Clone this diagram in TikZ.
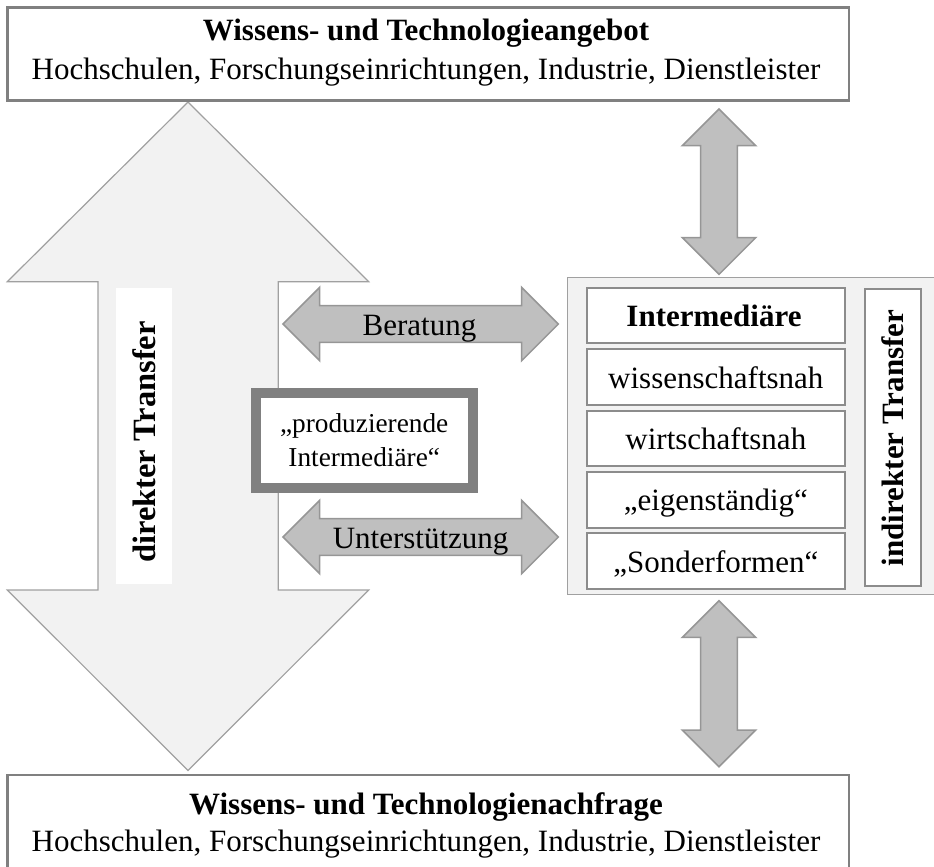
\documentclass[tikz,border=0pt]{standalone}
\usepackage{fontspec}
\setmainfont{Liberation Serif}
\definecolor{lightfill}{HTML}{F2F2F2}
\definecolor{bigline}{HTML}{A0A0A0}
\definecolor{arrowfill}{HTML}{BFBFBF}
\definecolor{arrowline}{HTML}{969696}
\definecolor{boxline}{HTML}{8C8C8C}
\definecolor{thickline}{HTML}{808080}
\begin{document}
\begin{tikzpicture}[x=1pt,y=-1pt,
  bigarrow/.style={fill=lightfill, draw=bigline, line width=1.2pt, line join=miter},
  smallarrow/.style={fill=arrowfill, draw=arrowline, line width=1.5pt, line join=miter},
  framebox/.style={draw=thickline, line width=2.5pt, fill=white, inner sep=0pt},
  listbox/.style={draw=boxline, line width=2pt, fill=white, inner sep=0pt},
  container/.style={draw=bigline, line width=1.5pt, fill=lightfill, inner sep=0pt},
  txt/.style={font=\fontsize{31}{37}\selectfont, inner sep=0pt},
  btxt/.style={font=\fontsize{31}{37}\selectfont\bfseries, inner sep=0pt},
  stxt/.style={font=\fontsize{27.3}{34}\selectfont, inner sep=0pt, align=center}]
\useasboundingbox (0,0) rectangle (934,867);

% big double arrow: direct transfer
\draw[bigarrow] (188,102) -- (7.3,281.7) -- (98,281.7) -- (98,590) -- (7.3,590) -- (188,770.5)
  -- (368.7,590) -- (278.3,590) -- (278.3,281.7) -- (368.7,281.7) -- cycle;
\node[fill=white, minimum width=56pt, minimum height=296pt, inner sep=0pt] (dirbg) at (144,436) {};
\node[font=\fontsize{32.5}{38}\selectfont\bfseries, inner sep=0pt, rotate=90] (dirtxt) at (144,442) {direkter Transfer};

% top and bottom boxes
\node[framebox, minimum width=841.7pt, minimum height=93.4pt] (supply) at (428.15,54) {};
\node[btxt, anchor=base] (supplyT) at (426,41) {Wissens- und Technologieangebot};
\node[txt, anchor=base] (supplyS) at (426,79) {Hochschulen, Forschungseinrichtungen, Industrie, Dienstleister};

\node[framebox, minimum width=841.7pt, minimum height=110pt] (demand) at (428.15,830) {};
\node[btxt, anchor=base] (demandT) at (426,814) {Wissens- und Technologienachfrage};
\node[txt, anchor=base] (demandS) at (426,851) {Hochschulen, Forschungseinrichtungen, Industrie, Dienstleister};

% container of intermediaries
\node[container, minimum width=380pt, minimum height=316.6pt] (cont) at (757.3,436) {};
\node[listbox, minimum width=258.3pt, minimum height=55pt] (b1) at (715.85,315.8) {};
\node[listbox, minimum width=258.3pt, minimum height=55.7pt] (b2) at (715.85,377.15) {};
\node[listbox, minimum width=258.3pt, minimum height=55.3pt] (b3) at (715.85,438.35) {};
\node[listbox, minimum width=258.3pt, minimum height=56pt] (b4) at (715.85,499.7) {};
\node[listbox, minimum width=258.3pt, minimum height=55.7pt] (b5) at (715.85,561.15) {};
\node[btxt, anchor=base] (t1) at (714,326.7) {Intermediäre};
\node[txt, anchor=base] (t2) at (715.85,388) {wissenschaftsnah};
\node[txt, anchor=base] (t3) at (715.85,449.2) {wirtschaftsnah};
\node[txt, anchor=base] (t4) at (715.85,510.5) {„eigenständig“};
\node[txt, anchor=base] (t5) at (715.85,572) {„Sonderformen“};
\node[listbox, minimum width=56pt, minimum height=296.7pt] (ind) at (893,437.65) {};
\node[btxt, rotate=90] (indtxt) at (893,438) {indirekter Transfer};

% vertical small arrows
\draw[smallarrow] (719,109) -- (755.7,145.7) -- (737.3,145.7) -- (737.3,237.6) -- (755.7,237.6)
  -- (719,274.3) -- (682.3,237.6) -- (700.7,237.6) -- (700.7,145.7) -- (682.3,145.7) -- cycle;
\draw[smallarrow] (719,600.7) -- (755.7,637.4) -- (737.3,637.4) -- (737.3,730) -- (755.7,730)
  -- (719,766.7) -- (682.3,730) -- (700.7,730) -- (700.7,637.4) -- (682.3,637.4) -- cycle;

% horizontal small arrows
\draw[smallarrow] (283,324) -- (319.7,287.3) -- (319.7,305.7) -- (521.6,305.7) -- (521.6,287.3)
  -- (558.3,324) -- (521.6,360.7) -- (521.6,342.3) -- (319.7,342.3) -- (319.7,360.7) -- cycle;
\node[txt, anchor=base] (berat) at (419.5,335.7) {Beratung};
\draw[smallarrow] (283,537) -- (319.7,500.3) -- (319.7,518.7) -- (521.6,518.7) -- (521.6,500.3)
  -- (558.3,537) -- (521.6,573.7) -- (521.6,555.3) -- (319.7,555.3) -- (319.7,573.7) -- cycle;
\node[txt, anchor=base] (unter) at (420.6,548) {Unterstützung};

% producing intermediaries
\node[draw=thickline, line width=10pt, fill=white, minimum width=217pt, minimum height=95pt, inner sep=0pt] (prod) at (364.8,440.8) {};
\node[stxt] (prodtxt) at (364.2,440) {„produzierende\\Intermediäre“};
\end{tikzpicture}
\end{document}
